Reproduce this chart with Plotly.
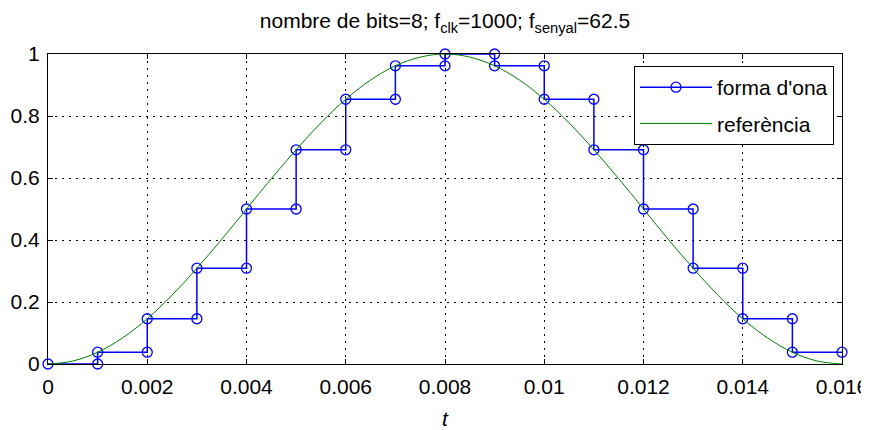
import plotly.graph_objects as go

# sample instants and quantised values (staircase output)
t_samples = [0, 0.001, 0.002, 0.003, 0.004, 0.005, 0.006, 0.007, 0.008,
             0.009, 0.010, 0.011, 0.012, 0.013, 0.014, 0.015]
y_samples = [0, 0.038, 0.146, 0.309, 0.5, 0.691, 0.854, 0.962, 1.0,
             0.962, 0.854, 0.691, 0.5, 0.309, 0.146, 0.038]
t_end = 0.016

# reference curve
t_ref = [0, 0.0005, 0.001, 0.0015, 0.002, 0.0025, 0.003, 0.0035, 0.004,
         0.0045, 0.005, 0.0055, 0.006, 0.0065, 0.007, 0.0075, 0.008,
         0.0085, 0.009, 0.0095, 0.010, 0.0105, 0.011, 0.0115, 0.012,
         0.0125, 0.013, 0.0135, 0.014, 0.0145, 0.015, 0.0155, 0.016]
y_ref = [0, 0.0096, 0.038, 0.084, 0.146, 0.222, 0.309, 0.402, 0.5,
         0.598, 0.691, 0.778, 0.854, 0.916, 0.962, 0.990, 1.0,
         0.990, 0.962, 0.916, 0.854, 0.778, 0.691, 0.598, 0.5,
         0.402, 0.309, 0.222, 0.146, 0.084, 0.038, 0.0096, 0]

x_ticks = [0, 0.002, 0.004, 0.006, 0.008, 0.010, 0.012, 0.014, 0.016]
x_tick_labels = ["0", "0.002", "0.004", "0.006", "0.008", "0.01", "0.012", "0.014", "0.016"]
y_ticks = [0, 0.2, 0.4, 0.6, 0.8, 1]
y_tick_labels = ["0", "0.2", "0.4", "0.6", "0.8", "1"]

# build staircase
xs, ys = [t_samples[0]], [y_samples[0]]
for i in range(1, len(t_samples)):
    xs += [t_samples[i], t_samples[i]]
    ys += [y_samples[i - 1], y_samples[i]]
xs.append(t_end)
ys.append(y_samples[-1])

FONT = "Liberation Sans, Arial, Helvetica, sans-serif"

# page body has an 8px margin: figure is placed at (8, 8) in the window
W, H = 861, 422
L, T, R, B = 40, 46, 27, 66

fig = go.Figure()
fig.add_trace(go.Scatter(
    x=xs, y=ys, mode="lines+markers", name="forma d'ona", legendgroup="a",
    line=dict(color="rgb(0,0,255)", width=1.5),
    marker=dict(symbol="circle-open", size=10, color="rgb(0,0,255)",
                line=dict(width=1.3, color="rgb(0,0,255)")),
    cliponaxis=False,
))
fig.add_trace(go.Scatter(
    x=t_ref, y=y_ref, mode="lines", name="referència", legendgroup="b",
    line=dict(color="rgb(0,128,0)", width=1, shape="spline"),
))

axis_common = dict(
    showline=True, linecolor="black", linewidth=1, mirror="ticks",
    ticks="inside", ticklen=5, tickcolor="black",
    showgrid=True, gridcolor="black", griddash="2px,5px", gridwidth=1,
    zeroline=False, automargin=False,
    tickfont=dict(family=FONT, size=21, color="black"),
)

fig.update_layout(
    width=W, height=H,
    margin=dict(l=L, r=R, t=T, b=B),
    paper_bgcolor="white", plot_bgcolor="white",
    font=dict(family=FONT, size=21, color="black"),
    title=dict(text="nombre de bits=8; f<sub>clk</sub>=1000; f<sub>senyal</sub>=62.5",
               x=(437 / W), xanchor="center", y=(1 - 13 / H), yanchor="middle",
               font=dict(family=FONT, size=21, color="black")),
    xaxis=dict(range=[0, 0.016], tickvals=x_ticks, ticktext=x_tick_labels,
               ticklabelstandoff=4,
               title=dict(text="<i>t</i>", standoff=14,
                          font=dict(family=FONT, size=21)),
               **axis_common),
    yaxis=dict(range=[0, 1], tickvals=y_ticks, ticktext=y_tick_labels,
               ticklabelstandoff=3,
               **axis_common),
    legend=dict(x=(834 - 48) / 794, y=(364 - 66) / 310, xanchor="right", yanchor="top",
                bordercolor="black", borderwidth=1, bgcolor="white",
                font=dict(family=FONT, size=21, color="black"),
                itemwidth=72, tracegroupgap=6, entrywidth=200, entrywidthmode="pixels"),
    showlegend=True,
)

fig.write_html("out.html")
